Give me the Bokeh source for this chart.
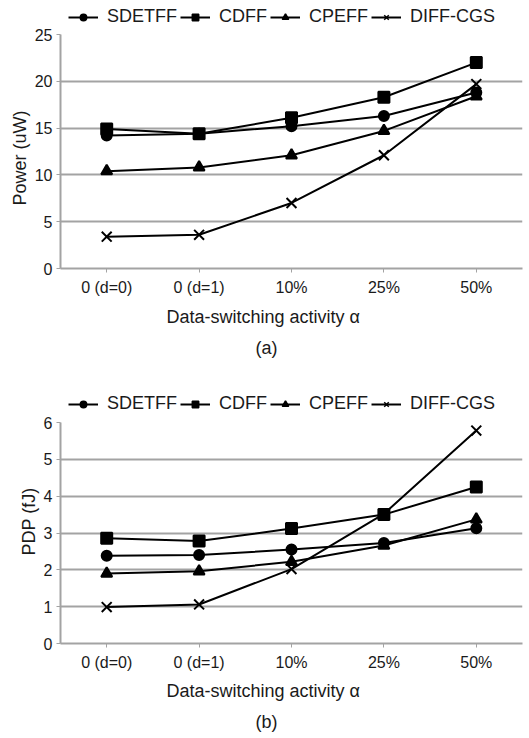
from bokeh.plotting import figure
from bokeh.models import Legend, LegendItem, FixedTicker, Title, Range1d
from bokeh.layouts import column
from bokeh.embed import file_html
from bokeh.resources import INLINE

# ---- data ----
categories = ["0 (d=0)", "0 (d=1)", "10%", "25%", "50%"]
series_names = ["SDETFF", "CDFF", "CPEFF", "DIFF-CGS"]

power_sdetff = [14.2, 14.4, 15.2, 16.3, 18.8]
power_cdff = [14.9, 14.4, 16.1, 18.3, 22.0]
power_cpeff = [10.4, 10.8, 12.1, 14.7, 18.4]
power_diffcgs = [3.4, 3.6, 7.0, 12.1, 19.7]

pdp_sdetff = [2.38, 2.40, 2.55, 2.73, 3.13]
pdp_cdff = [2.86, 2.78, 3.12, 3.50, 4.25]
pdp_cpeff = [1.90, 1.96, 2.22, 2.66, 3.37]
pdp_diffcgs = [0.99, 1.06, 2.02, 3.52, 5.78]

power_ticks = [0, 5, 10, 15, 20, 25]
pdp_ticks = [0, 1, 2, 3, 4, 5, 6]

FONT = "Liberation Sans"
GRID = "#a3a3a3"
TEXT = "#1a1a1a"
markers = ["circle", "square", "triangle", "x"]
plot_sizes = [10, 11, 11, 14]
legend_sizes = [6, 6, 7, 9]


def make_legend(series, height, leg_x, leg_y):
    xs = list(range(len(categories)))
    lf = figure(width=529, height=height, output_backend="svg",
                toolbar_location=None,
                x_axis_location=None, y_axis_location=None,
                # ranges far away: the sample renderers are never visible
                x_range=Range1d(1e6, 1e6 + 1), y_range=Range1d(1e6, 1e6 + 1),
                min_border_left=0, min_border_right=0,
                min_border_top=0, min_border_bottom=0)
    lf.outline_line_color = None
    lf.xgrid.visible = False
    lf.ygrid.visible = False
    items = []
    for name, vals, mk, lsz in zip(series_names, series, markers,
                                   legend_sizes):
        lr = lf.line(xs, vals, line_color="black", line_width=2)
        sr = lf.scatter(xs, vals, marker=mk, size=lsz, fill_color="black",
                        line_color="black", line_width=1.5)
        items.append(LegendItem(label=name, renderers=[lr, sr]))
    legend = Legend(items=items, orientation="horizontal",
                    location=(leg_x, leg_y),
                    label_text_font=FONT, label_text_font_size="18px",
                    label_text_color=TEXT, label_text_line_height=1.0,
                    glyph_width=30, glyph_height=16, label_height=16,
                    label_standoff=9, spacing=3, padding=0, margin=0,
                    border_line_alpha=0, background_fill_alpha=0)
    lf.add_layout(legend, "center")
    return lf


def make_chart(series, ticks, ylab, caption, height, top, bottom,
               ylab_offset, xlab_offset, cap_offset, xlab_standoff,
               cap_standoff):
    xs = list(range(len(categories)))
    p = figure(width=529, height=height, output_backend="svg",
               toolbar_location=None,
               x_range=Range1d(-0.5, len(categories) - 0.5),
               y_range=Range1d(ticks[0], ticks[-1]),
               min_border_left=60, min_border_right=7,
               min_border_top=top, min_border_bottom=bottom)
    p.outline_line_color = None
    p.background_fill_color = "white"
    p.border_fill_color = "white"

    # axes
    p.xaxis.ticker = FixedTicker(ticks=xs)
    p.xaxis.major_label_overrides = {i: c for i, c in enumerate(categories)}
    p.xaxis.major_tick_out = 4
    p.xaxis.major_tick_in = 0
    p.xaxis.major_tick_line_color = GRID
    p.xaxis.minor_tick_line_color = None
    p.xaxis.axis_line_color = GRID
    p.xaxis.axis_line_width = 2
    p.xaxis.major_label_text_font = FONT
    p.xaxis.major_label_text_font_size = "16px"
    p.xaxis.major_label_text_color = TEXT
    p.xaxis.major_label_standoff = 6

    p.yaxis.ticker = FixedTicker(ticks=ticks)
    p.yaxis.major_tick_out = 4
    p.yaxis.major_tick_in = 0
    p.yaxis.major_tick_line_color = GRID
    p.yaxis.minor_tick_line_color = None
    p.yaxis.axis_line_color = GRID
    p.yaxis.axis_line_width = 2
    p.yaxis.major_label_text_font = FONT
    p.yaxis.major_label_text_font_size = "16px"
    p.yaxis.major_label_text_color = TEXT
    p.yaxis.major_label_text_line_height = 1.0
    p.yaxis.major_label_standoff = 4

    p.xgrid.visible = False
    p.ygrid.grid_line_color = GRID
    p.ygrid.grid_line_width = 2

    # data
    for vals, mk, sz in zip(series, markers, plot_sizes):
        p.line(xs, vals, line_color="black", line_width=2)
        p.scatter(xs, vals, marker=mk, size=sz, fill_color="black",
                  line_color="black", line_width=2)

    # titles
    p.add_layout(Title(text="Data-switching activity \u03b1", align="left",
                       offset=xlab_offset, text_font=FONT,
                       text_font_size="18px", text_font_style="normal",
                       text_color=TEXT, standoff=xlab_standoff), "below")
    p.add_layout(Title(text=caption, align="left", offset=cap_offset,
                       text_font=FONT, text_font_size="18px",
                       text_font_style="normal", text_color=TEXT,
                       standoff=cap_standoff), "below")
    p.add_layout(Title(text=ylab, align="left", offset=ylab_offset,
                       text_font=FONT, text_font_size="18px",
                       text_font_style="normal", text_color=TEXT,
                       standoff=4), "left")
    return p


power_series = [power_sdetff, power_cdff, power_cpeff, power_diffcgs]
pdp_series = [pdp_sdetff, pdp_cdff, pdp_cpeff, pdp_diffcgs]

leg1 = make_legend(power_series, 27, 8, 0)
p1 = make_chart(power_series, power_ticks, "Power (uW)", "(a)", 343, 7, 102,
                ylab_offset=63, xlab_offset=106, cap_offset=195,
                xlab_standoff=12, cap_standoff=6)
leg2 = make_legend(pdp_series, 44, 8, 0)
p2 = make_chart(pdp_series, pdp_ticks, "PDP (fJ)", "(b)", 324, 8, 95,
                ylab_offset=88, xlab_offset=106, cap_offset=195,
                xlab_standoff=10, cap_standoff=8)

layout = column(leg1, p1, leg2, p2, spacing=0)
open("out.html", "w").write(file_html(layout, INLINE))
